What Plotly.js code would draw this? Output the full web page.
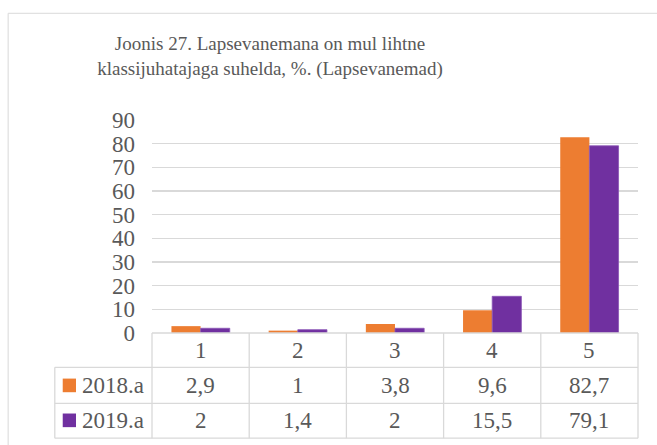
<!DOCTYPE html>
<html>
<head>
<meta charset="utf-8">
<script src="https://cdn.plot.ly/plotly-3.0.1.min.js"></script>
<style>html,body{margin:0;padding:0;background:#fff;}#chart{width:657px;height:445px;}</style>
</head>
<body>
<div id="chart"></div>
<script>
var categories = ['1', '2', '3', '4', '5'];
var seriesNames = ['2018.a', '2019.a'];
var values2018 = [2.9, 1, 3.8, 9.6, 82.7];
var values2019 = [2, 1.4, 2, 15.5, 79.1];
var seriesColors = ['#ED7D31', '#7030A0'];
var seriesEdges = ['#F0935A', '#8A55B5'];
var yTicks = [0, 10, 20, 30, 40, 50, 60, 70, 80, 90];
var titleText = 'Joonis 27. Lapsevanemana on mul lihtne<br>klassijuhatajaga suhelda, %. (Lapsevanemad)';

var allValues = [values2018, values2019];
var textColor = '#595959';
var gridColor = '#D9D9D9';
var fontFam = 'Times New Roman, Liberation Serif, Tinos, Times, Noto Serif, DejaVu Serif, serif';

var traces = allValues.map(function (vals, i) {
  return {
    type: 'bar',
    x: categories,
    y: vals,
    name: seriesNames[i],
    marker: {color: seriesColors[i], line: {color: seriesEdges[i], width: i === 1 ? 0.8 : 0}},
    hoverinfo: 'none'
  };
});

// table geometry (paper coords relative to plot area)
var rowLines = [0, -0.161, -0.330, -0.494];
var rowCenters = [-0.081, -0.246, -0.410];
var labelColX = -0.2;

var shapes = [];
var annotations = [];
// outer frame
shapes.push({type: 'rect', xref: 'paper', yref: 'paper', x0: -0.296, x1: 1.5, y0: -1.5, y1: 1.501,
  line: {color: gridColor, width: 1}, fillcolor: 'rgba(0,0,0,0)', layer: 'below'});
// horizontal table lines
shapes.push({type: 'line', xref: 'paper', yref: 'paper', x0: 0, x1: 1, y0: rowLines[0], y1: rowLines[0], line: {color: gridColor, width: 1.3}});
for (var r = 1; r < rowLines.length; r++) {
  shapes.push({type: 'line', xref: 'paper', yref: 'paper', x0: labelColX, x1: 1, y0: rowLines[r], y1: rowLines[r], line: {color: gridColor, width: 1.3}});
}
// vertical lines
for (var c = 0; c <= categories.length; c++) {
  var xp = c / categories.length;
  shapes.push({type: 'line', xref: 'paper', yref: 'paper', x0: xp, x1: xp, y0: rowLines[0], y1: rowLines[3], line: {color: gridColor, width: 1.3}});
}
shapes.push({type: 'line', xref: 'paper', yref: 'paper', x0: labelColX, x1: labelColX, y0: rowLines[1], y1: rowLines[3], line: {color: gridColor, width: 1.3}});

// header row (categories)
categories.forEach(function (cat, i) {
  annotations.push({xref: 'x', yref: 'paper', x: i, y: rowCenters[0], text: cat, showarrow: false,
    xanchor: 'center', yanchor: 'middle', font: {family: fontFam, size: 23, color: textColor}});
});
// series rows
allValues.forEach(function (vals, s) {
  var yc = rowCenters[s + 1];
  shapes.push({type: 'rect', xref: 'paper', yref: 'paper', x0: -0.1837, x1: -0.1564, y0: yc - 0.032, y1: yc + 0.032,
    line: {width: 0}, fillcolor: seriesColors[s]});
  annotations.push({xref: 'paper', yref: 'paper', x: -0.149, y: yc, text: seriesNames[s], showarrow: false,
    xanchor: 'left', yanchor: 'middle', font: {family: fontFam, size: 23, color: textColor}});
  vals.forEach(function (v, i) {
    annotations.push({xref: 'x', yref: 'paper', x: i, y: yc, text: String(v).replace('.', ','), showarrow: false,
      xanchor: 'center', yanchor: 'middle', font: {family: fontFam, size: 23, color: textColor}});
  });
});

var layout = {
  width: 657, height: 445,
  font: {family: fontFam, color: textColor},
  margin: {l: 152, r: 19, t: 119.7, b: 112.3},
  paper_bgcolor: '#ffffff', plot_bgcolor: '#ffffff',
  showlegend: false,
  barmode: 'group', bargap: 0.4, bargroupgap: 0,
  title: {text: titleText, xref: 'container', yref: 'container', x: 270 / 657, xanchor: 'center',
    y: 1 - 50 / 445, yanchor: 'top', font: {family: fontFam, size: 19, color: textColor}},
  xaxis: {type: 'category', range: [-0.5, categories.length - 0.5], autorange: false, showticklabels: false, showgrid: false,
    zeroline: false, showline: false, ticks: '', fixedrange: true},
  yaxis: {range: [0, 90], autorange: false, tickvals: yTicks, ticktext: yTicks.map(String), showgrid: true, gridcolor: gridColor, gridwidth: 1.3,
    zeroline: false, showline: false, ticks: '', ticklabelstandoff: 16,
    tickfont: {family: fontFam, size: 23, color: textColor}, fixedrange: true},
  shapes: shapes,
  annotations: annotations
};

Plotly.newPlot('chart', traces, layout, {staticPlot: true, displayModeBar: false});
</script>
</body>
</html>
